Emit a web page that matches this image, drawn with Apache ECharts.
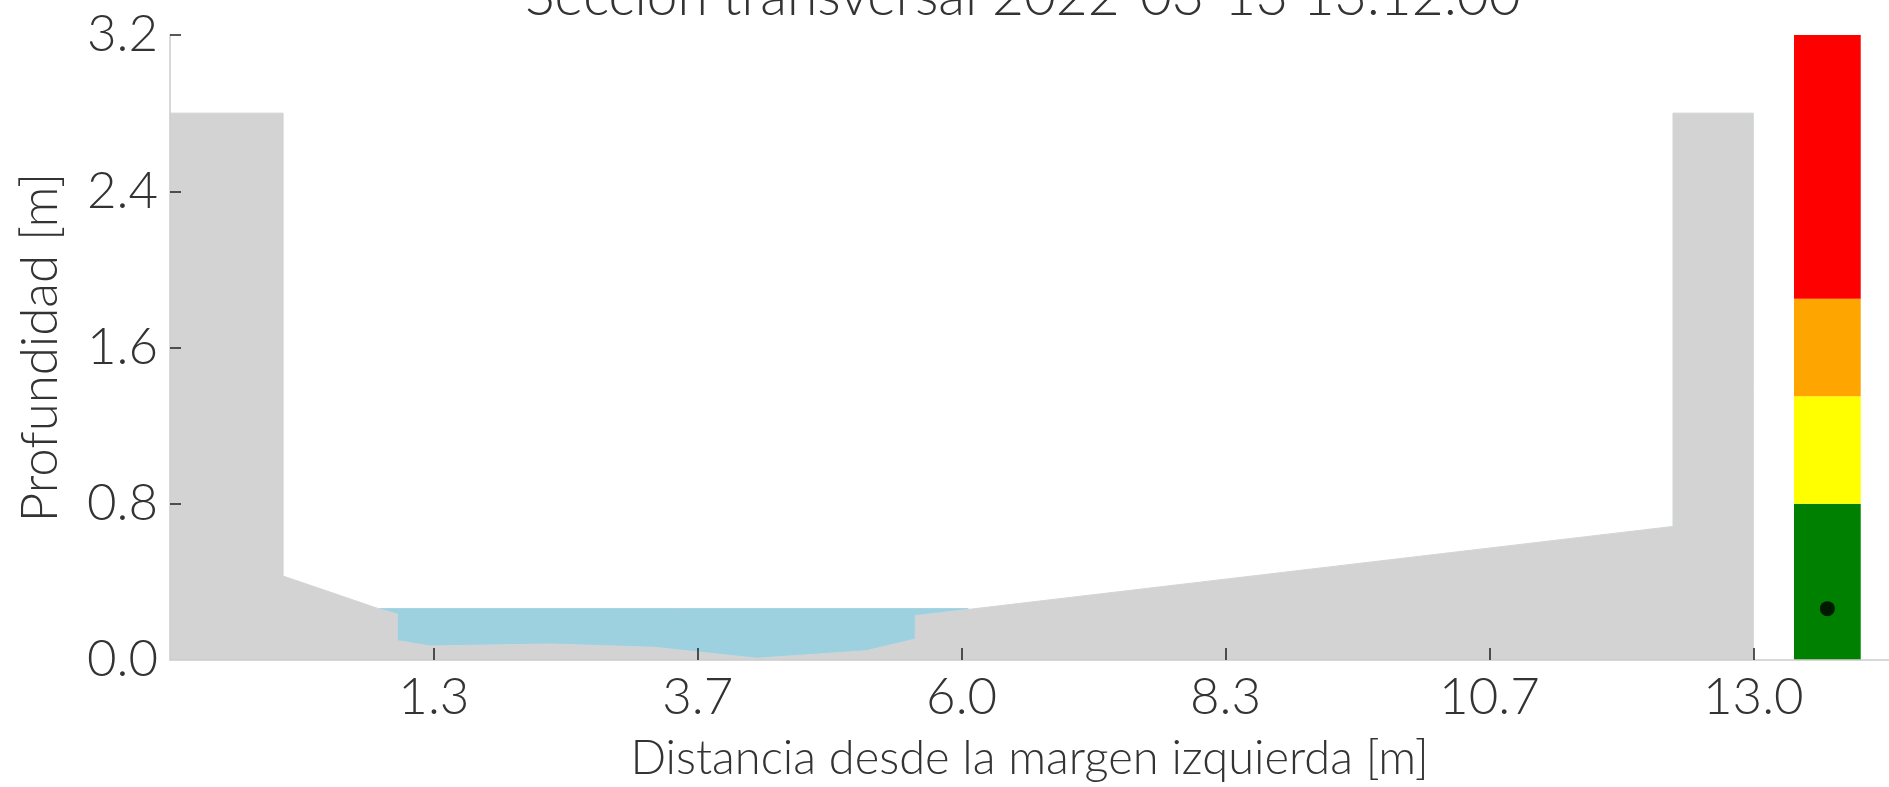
<!DOCTYPE html>
<html>
<head>
<meta charset="utf-8">
<script src="https://cdn.jsdelivr.net/npm/echarts@6/dist/echarts.min.js"></script>
<style>
html,body{margin:0;padding:0;background:#fff;}
#c{width:1889px;height:787px;}
</style>
</head>
<body>
<div id="c"></div>
<script>
// ---- data ----
const titleText = 'Sección transversal 2022-03-13 13:12:00';
const xAxisTitle = 'Distancia desde la margen izquierda [m]';
const yAxisTitle = 'Profundidad [m]';

const groundX = [-1, 0, 0, 0.845, 1.01, 1.01, 1.3, 2.37, 3.28, 4.19, 5.16, 5.59, 5.59, 12.29, 12.29, 13.0, 13.0];
const groundY = [2.8, 2.8, 0.43, 0.263, 0.235, 0.099, 0.072, 0.082, 0.065, 0.009, 0.048, 0.107, 0.227, 0.684, 2.8, 2.8, 0];

const waterX = [0.845, 6.06];
const waterLevel = 0.263;

const alertLevels = [0, 0.8, 1.35, 1.85, 3.2];
const alertColors = ['#008000', '#ffff00', '#ffa500', '#ff0000'];

const xTickValues = [4/3, 11/3, 6, 25/3, 32/3, 13];
const xTickLabels = ['1.3', '3.7', '6.0', '8.3', '10.7', '13.0'];
const yTickValues = [0, 0.8, 1.6, 2.4, 3.2];
const yTickLabels = ['0.0', '0.8', '1.6', '2.4', '3.2'];

// ---- layout constants ----
const barSpan = [13.36, 13.95];
const FONT = 'Lato, "Open Sans", sans-serif';
const TXT = '#333333';

const groundData = groundX.map((x, i) => [x, groundY[i]]);
const waterData = waterX.map(x => [x, waterLevel]);
const alertData = alertColors.map((c, i) => [barSpan[0], barSpan[1], alertLevels[i], alertLevels[i + 1], i]);

const chart = echarts.init(document.getElementById('c'), null, {renderer: 'canvas'});
chart.setOption({
  animation: false,
  backgroundColor: '#ffffff',
  title: {
    text: titleText,
    left: 1018,
    textAlign: 'center',
    top: -35,
    textStyle: {fontFamily: FONT, fontSize: 55, fontWeight: 300, color: TXT}
  },
  grid: {left: 170, right: 0, top: 35, bottom: 126},
  xAxis: {
    type: 'value',
    min: -1,
    max: 14.2,
    zlevel: 1,
    z: 10,
    name: xAxisTitle,
    nameLocation: 'middle',
    nameGap: 75,
    nameTextStyle: {fontFamily: FONT, fontSize: 47, fontWeight: 300, color: TXT},
    axisLine: {show: true, onZero: false, lineStyle: {color: '#cccccc', width: 1.5}},
    axisTick: {show: true, inside: true, length: 12, lineStyle: {color: '#222', width: 1.5}, customValues: xTickValues},
    axisLabel: {
      fontFamily: FONT, fontSize: 51, fontWeight: 300, color: TXT, margin: 12,
      customValues: xTickValues,
      formatter: v => { const i = xTickValues.findIndex(t => Math.abs(t - v) < 1e-6); return i >= 0 ? xTickLabels[i] : ''; }
    },
    splitLine: {show: false}
  },
  yAxis: {
    type: 'value',
    min: 0,
    max: 3.2,
    zlevel: 1,
    z: 10,
    name: yAxisTitle,
    nameLocation: 'middle',
    nameGap: 104,
    nameTextStyle: {fontFamily: FONT, fontSize: 51, fontWeight: 300, color: TXT},
    axisLine: {show: true, onZero: false, lineStyle: {color: '#cccccc', width: 1.5}},
    axisTick: {show: true, inside: true, length: 11, lineStyle: {color: '#222', width: 1.5}, customValues: yTickValues.slice(1)},
    axisLabel: {
      fontFamily: FONT, fontSize: 51, fontWeight: 300, color: TXT, margin: 12,
      customValues: yTickValues,
      formatter: v => { const i = yTickValues.findIndex(t => Math.abs(t - v) < 1e-6); return i >= 0 ? yTickLabels[i] : ''; }
    },
    splitLine: {show: false}
  },
  series: [
    {
      type: 'line',
      z: 1,
      data: waterData,
      showSymbol: false,
      lineStyle: {color: '#9ed1e0', width: 1},
      areaStyle: {color: '#9ed1e0', opacity: 1, origin: 'start'}
    },
    {
      type: 'line',
      z: 2,
      data: groundData,
      showSymbol: false,
      lineStyle: {color: '#d0d5d8', width: 1},
      areaStyle: {color: '#d3d3d3', opacity: 1, origin: 'start'}
    },
    {
      type: 'custom',
      z: 3,
      data: alertData,
      renderItem: (params, api) => {
        const p0 = api.coord([api.value(0), api.value(3)]);
        const p1 = api.coord([api.value(1), api.value(2)]);
        return {
          type: 'rect',
          shape: {x: p0[0], y: p0[1], width: p1[0] - p0[0], height: p1[1] - p0[1]},
          style: {fill: alertColors[api.value(4)]}
        };
      }
    },
    {
      type: 'scatter',
      z: 4,
      data: [[(barSpan[0] + barSpan[1]) / 2, waterLevel]],
      symbol: 'circle',
      symbolSize: 15,
      itemStyle: {color: '#000000'}
    }
  ]
});
</script>
</body>
</html>
